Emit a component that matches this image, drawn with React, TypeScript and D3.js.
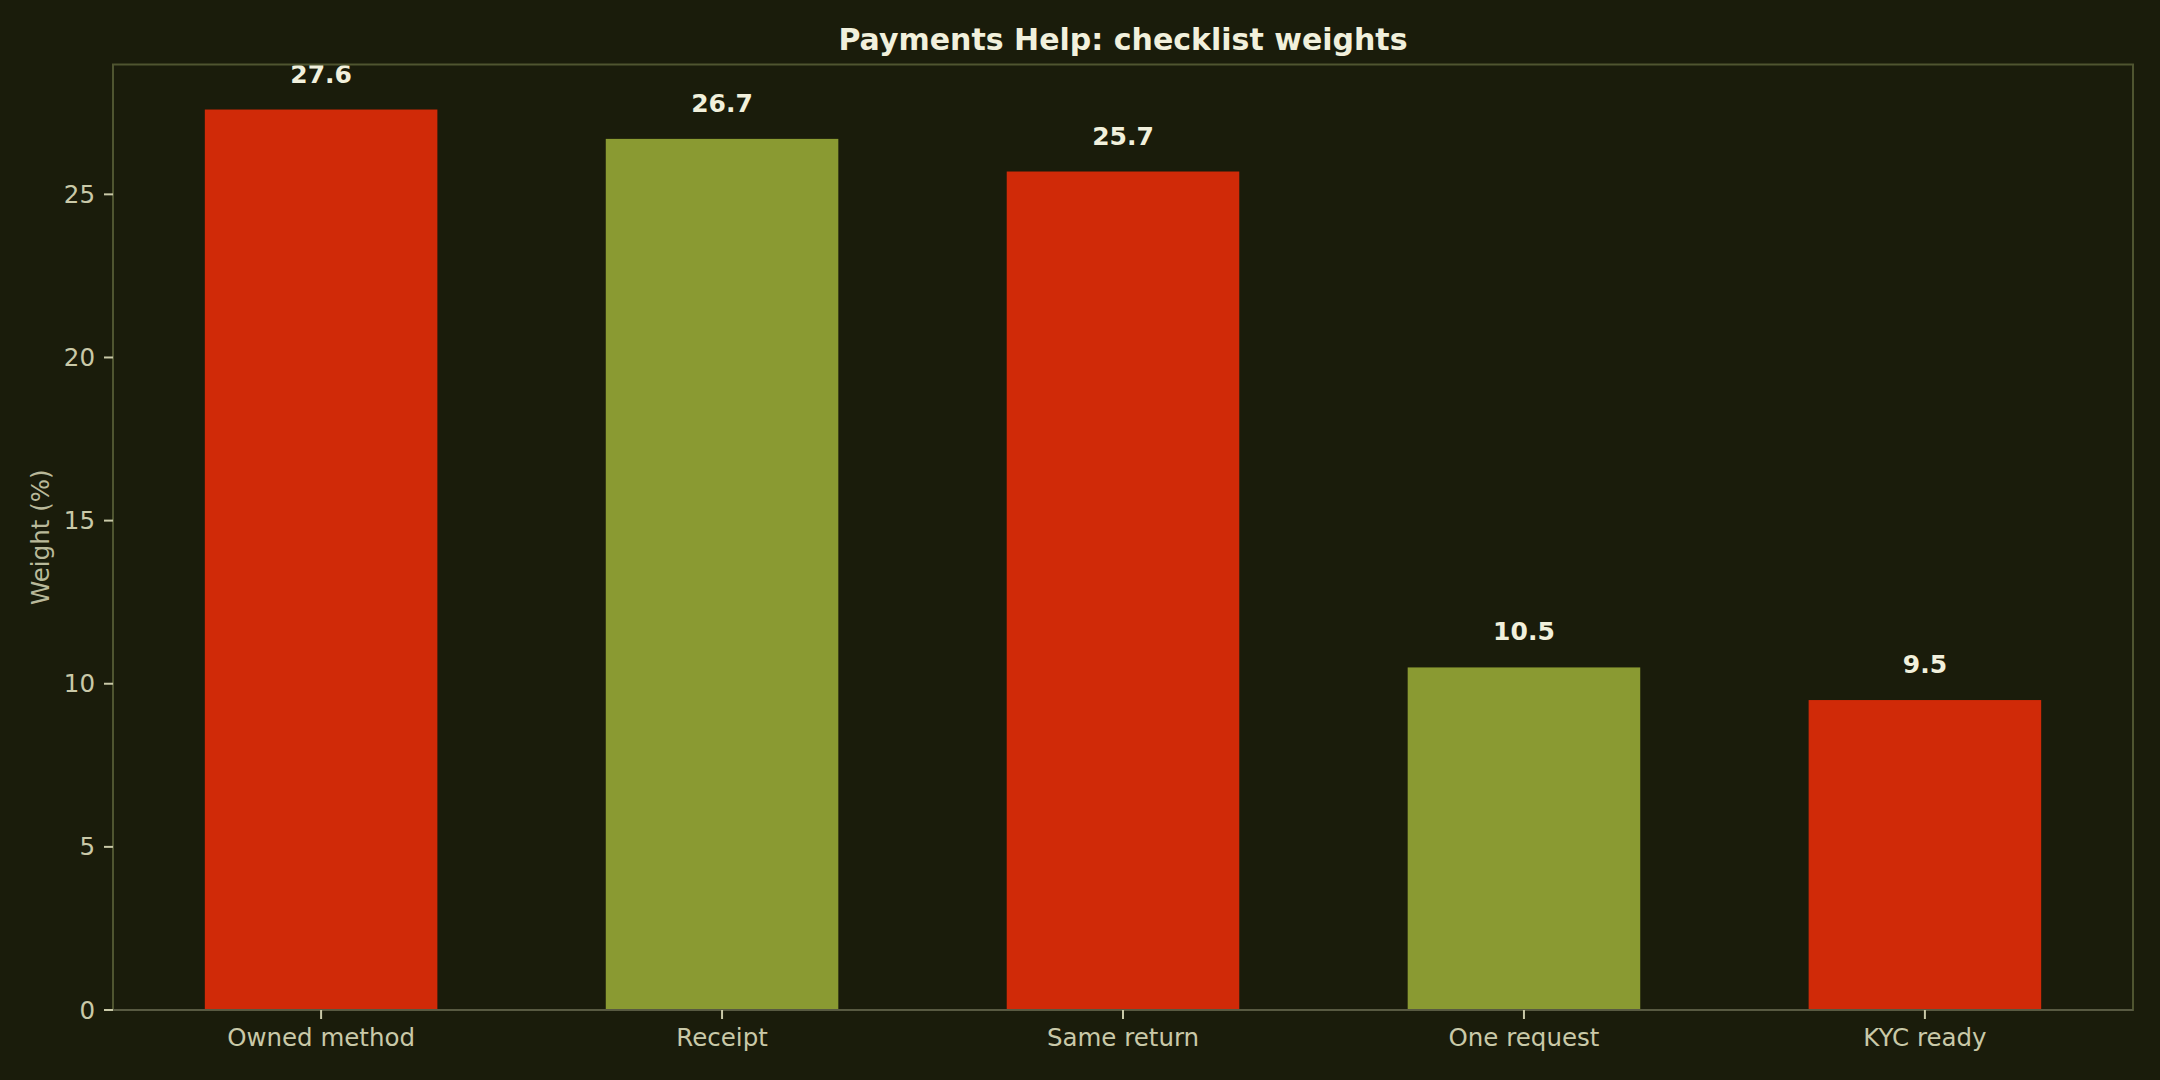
import * as d3 from "d3";

const categories = ["Owned method", "Receipt", "Same return", "One request", "KYC ready"];
const weights = [27.6, 26.7, 25.7, 10.5, 9.5];
const barColors = ["#d02a08", "#8a9a32", "#d02a08", "#8a9a32", "#d02a08"];
const yTicks = [0, 5, 10, 15, 20, 25];

const W = 2160;
const H = 1080;
const margin = { left: 113, right: 27, top: 64.5, bottom: 70 };
const barWidth = 0.58;

const bg = "#1a1c0b";
const spine = "#4f5530";
const tickColor = "#c9c9a8";
const font = "DejaVu Sans";

export default function App() {
  const n = categories.length;
  const pad = 0.05 * (n - 1 + barWidth);
  const x = d3
    .scaleLinear()
    .domain([-barWidth / 2 - pad, n - 1 + barWidth / 2 + pad])
    .range([margin.left, W - margin.right]);
  const yMax = d3.max(weights)! * 1.05;
  const y = d3
    .scaleLinear()
    .domain([0, yMax])
    .range([H - margin.bottom, margin.top]);

  const [x0, x1] = x.range();
  const [yb, yt] = y.range();

  return (
    <svg
      width={W}
      height={H}
      style={{ position: "absolute", left: 0, top: 0, display: "block" }}
      fontFamily={font}
    >
      <rect width={W} height={H} fill={bg} />

      {/* bars */}
      {weights.map((v, i) => (
        <rect
          key={categories[i]}
          x={x(i - barWidth / 2)}
          y={y(v)}
          width={x(i + barWidth / 2) - x(i - barWidth / 2)}
          height={y(0) - y(v)}
          fill={barColors[i]}
        />
      ))}

      {/* value labels */}
      {weights.map((v, i) => (
        <text
          key={"lab" + i}
          x={x(i)}
          y={y(v) - 27}
          textAnchor="middle"
          fontSize={25}
          fontWeight="bold"
          fill="#f1f0dc"
        >
          {v.toFixed(1)}
        </text>
      ))}

      {/* spines */}
      <rect
        x={x0}
        y={yt}
        width={x1 - x0}
        height={yb - yt}
        fill="none"
        stroke={spine}
        strokeWidth={2}
      />
      <line x1={x0} x2={x1} y1={yb} y2={yb} stroke="#585a42" strokeWidth={2} />

      {/* y ticks */}
      {yTicks.map((t) => (
        <g key={"yt" + t} transform={`translate(${x0},${y(t)})`}>
          <line x1={-9} x2={0} stroke={tickColor} strokeWidth={2} />
          <text
            x={-18}
            textAnchor="end"
            dominantBaseline="central"
            fontSize={24.5}
            fill={tickColor}
          >
            {t}
          </text>
        </g>
      ))}

      {/* x ticks */}
      {categories.map((c, i) => (
        <g key={"xt" + c} transform={`translate(${x(i)},${yb})`}>
          <line y1={0} y2={9} stroke={tickColor} strokeWidth={2} />
          <text y={36} textAnchor="middle" fontSize={24.5} fill={tickColor}>
            {c}
          </text>
        </g>
      ))}

      {/* axis label */}
      <text
        transform={`translate(40,${(yt + yb) / 2}) rotate(-90)`}
        textAnchor="middle"
        dominantBaseline="central"
        fontSize={24.5}
        fill="#b9b99a"
      >
        Weight (%)
      </text>

      {/* title */}
      <text
        x={(x0 + x1) / 2}
        y={50}
        textAnchor="middle"
        fontSize={30}
        fontWeight="bold"
        fill="#f1f0dc"
      >
        Payments Help: checklist weights
      </text>
    </svg>
  );
}
